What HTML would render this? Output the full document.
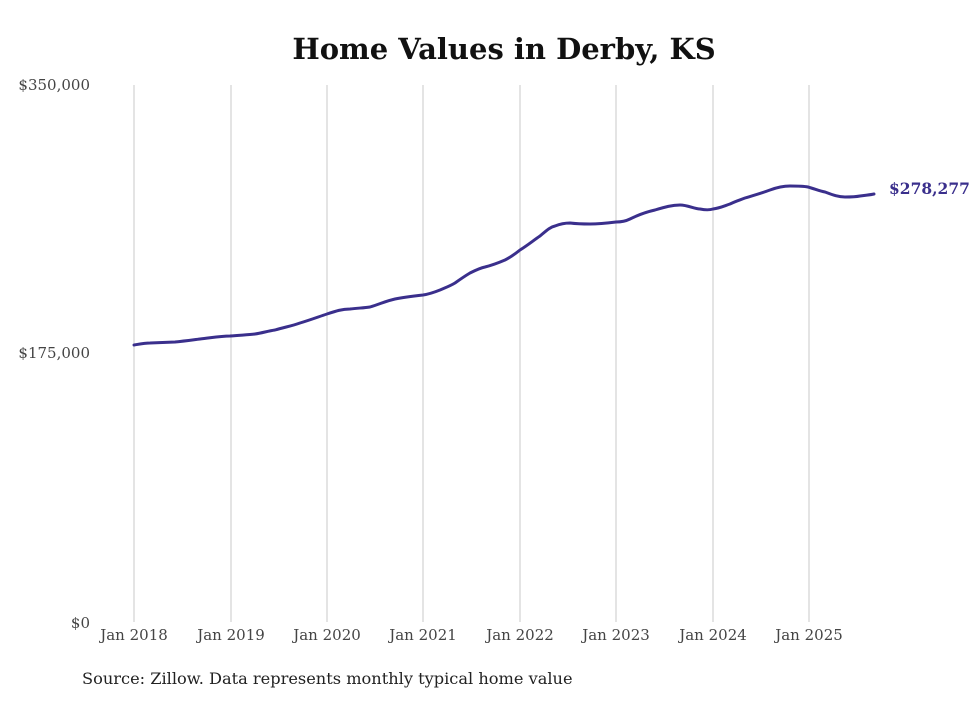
<!DOCTYPE html>
<html><head><style>
body{margin:0;background:#fff;width:980px;height:699px;overflow:hidden}
svg text{font-family:"DejaVu Serif","Liberation Serif",serif}
</style></head><body>
<svg width="980" height="699" viewBox="0 0 980 699">
<text x="504" y="59" text-anchor="middle" font-size="29" font-weight="bold" fill="#111">Home Values in Derby, KS</text>
<g stroke="#c8c8c8" stroke-width="1">
<line x1="134" y1="85" x2="134" y2="622"/><line x1="231" y1="85" x2="231" y2="622"/>
<line x1="327" y1="85" x2="327" y2="622"/><line x1="423" y1="85" x2="423" y2="622"/>
<line x1="520" y1="85" x2="520" y2="622"/><line x1="616" y1="85" x2="616" y2="622"/>
<line x1="713" y1="85" x2="713" y2="622"/><line x1="809" y1="85" x2="809" y2="622"/>
</g>
<g font-size="15" fill="#444" text-anchor="end">
<text x="90" y="90">$350,000</text><text x="90" y="358">$175,000</text><text x="90" y="628">$0</text>
</g>
<g font-size="15" fill="#444" text-anchor="middle">
<text x="134" y="640">Jan 2018</text><text x="231" y="640">Jan 2019</text><text x="327" y="640">Jan 2020</text>
<text x="423" y="640">Jan 2021</text><text x="520" y="640">Jan 2022</text><text x="616" y="640">Jan 2023</text>
<text x="713" y="640">Jan 2024</text><text x="809" y="640">Jan 2025</text>
</g>
<path fill="none" stroke="#3a2f8c" stroke-width="3" stroke-linejoin="round" stroke-linecap="round"
d="M134,345 C140,344 145,343 150,343 L175,342 C185,341 192,340 200,339 C210,338 220,336 230,336 C240,335 248,335 255,334 C262,333 268,331 275,330 C285,327 292,326 300,323 C310,320 318,317 327,314 C336,311 342,309 350,309 C358,308 364,308 370,307 C380,304 386,301 395,299 C405,297 414,296 423,295 C430,294 435,292 440,290 C447,287 450,286 455,283 C462,278 465,276 470,273 C476,270 480,268 485,267 C493,265 498,263 505,260 C511,257 515,254 520,250 C528,245 534,240 540,236 C546,231 550,227 555,226 C560,224 565,223 570,223 C578,224 584,224 590,224 C600,224 608,223 616,222 C622,222 626,221 630,219 C640,214 646,212 655,210 C665,207 672,205 680,205 C688,205 694,209 700,209 C705,210 710,210 713,209 C720,208 724,206 730,204 C736,201 740,200 745,198 C755,195 762,193 770,190 C778,187 784,186 790,186 C797,186 803,186 808,187 C815,189 820,191 825,192 C833,195 838,197 845,197 C851,197 855,197 860,196 C866,195 870,195 874,194"/>
<text x="889" y="194" font-size="15.5" font-weight="bold" fill="#3a2f8c">$278,277</text>
<text x="82" y="684" font-size="16.2" fill="#222">Source: Zillow. Data represents monthly typical home value</text>
</svg>
</body></html>
